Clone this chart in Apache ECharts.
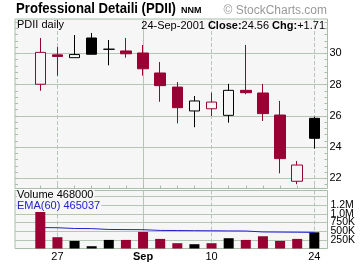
<!DOCTYPE html>
<html><head><meta charset="utf-8">
<script src="https://cdn.jsdelivr.net/npm/echarts@6/dist/echarts.min.js"></script>
<style>html,body{margin:0;padding:0;background:#fff}#c{width:360px;height:266px}</style>
</head><body><div id="c"></div>
<script>
// ---- data ----
const dates = ['2001-08-24','2001-08-27','2001-08-28','2001-08-29','2001-08-30','2001-08-31',
  '2001-09-04','2001-09-05','2001-09-06','2001-09-07','2001-09-10','2001-09-17','2001-09-18',
  '2001-09-19','2001-09-20','2001-09-21','2001-09-24'];
const open  = [28.02, 29.90, 29.72, 30.98, 30.26, 30.15, 30.02, 28.74, 27.84, 26.31, 26.45, 26.03, 27.63, 27.46, 26.05, 21.81, 25.84];
const close = [30.06, 29.80, 29.92, 29.94, 30.26, 29.97, 29.01, 27.93, 26.52, 26.95, 26.88, 27.63, 27.48, 26.14, 23.26, 22.85, 24.56];
const low   = [27.60, 28.57, 29.72, 29.94, 29.23, 29.72, 28.57, 26.90, 25.52, 25.27, 25.99, 25.56, 27.38, 25.67, 22.32, 21.62, 23.90];
const high  = [30.98, 30.40, 31.17, 31.30, 30.85, 30.98, 30.53, 29.44, 28.16, 27.27, 27.48, 28.04, 30.53, 28.04, 26.95, 23.11, 25.95];
const prevClose = 30.40;
const volume = [1055000, 326000, 219000, 66000, 248000, 248000, 478000, 277000, 153000, 124000, 153000, 297000, 248000, 354000, 219000, 277000, 468000];
const ema60  = [605000, 600000, 578000, 574000, 550000, 546000, 543000, 522000, 519000, 515000, 512000, 508000, 505000, 478000, 474000, 470000, 465000];

const priceLabels = [22, 24, 26, 28, 30];
const volLabelValues = [250000, 500000, 750000, 1000000, 1250000];
const volLabelText = ['250K', '500K', '750K', '1.0M', '1.2M'];
const volGridValues = [250000, 500000, 750000, 1000000, 1250000, 1500000];
const dateLabelIdx = [1, 6, 10, 16];
const dateLabelText = ['27', 'Sep', '10', '24'];
const dashedIdx = [1, 10, 16];
const solidIdx = [6];

// ---- styles ----
const RED = '#990033', BLACK = '#000000', BG = '#f6f6f6', BLUE = '#2222cc';
const FRAME = '#a9bea9', GRID = '#b4c6b4', DASH = '#b8c4b8';
const F = '"Liberation Sans", Arial, sans-serif';

const minorTicks = [];
for (let v = 21.6; v <= 32.0001; v += 0.4) minorTicks.push(Math.round(v * 10) / 10);
const allIdx = dates.map((d, i) => i);
const XMIN = -1.477, XMAX = 16.77;
const PMIN = 21.347, PMAX = 32.195;
const VMAX = 1675000;

const isUp = close.map((c, i) => c >= (i ? close[i - 1] : prevClose));
const isHollow = close.map((c, i) => c > open[i]);

const candleData = dates.map((d, i) => {
  const col = isUp[i] ? BLACK : RED;
  const fill = isHollow[i] ? BG : col;
  return { value: [i, open[i], close[i], low[i], high[i]],
    itemStyle: { color: fill, color0: fill, borderColor: col, borderColor0: col } };
});
const volData = dates.map((d, i) => ({ value: [i, volume[i]], itemStyle: { color: isUp[i] ? BLACK : RED } }));
const emaData = dates.map((d, i) => [i, ema60[i]]);

function hiddenX(grid, extra) {
  return Object.assign({ type: 'value', gridIndex: grid, min: XMIN, max: XMAX,
    axisLine: { show: false, onZero: false }, axisTick: { show: false }, axisLabel: { show: false }, splitLine: { show: false } }, extra);
}
function splitX(grid, vals, type) {
  return hiddenX(grid, { axisTick: { show: false, customValues: vals },
    splitLine: { show: true, lineStyle: { color: DASH, width: 1, type: type } } });
}
function volLabelAxis(vals, withSplit) {
  return { type: 'value', gridIndex: 1, position: 'right', min: 0, max: VMAX,
    axisLine: { show: false, onZero: false },
    axisTick: { show: false, customValues: withSplit ? volGridValues : vals },
    splitLine: { show: withSplit, lineStyle: { color: GRID, width: 1 } },
    axisLabel: { show: true, customValues: vals, margin: 3, fontFamily: F, fontSize: 10.5, lineHeight: 8,
      color: '#000', hideOverlap: false, showMinLabel: true, showMaxLabel: true, interval: 0,
      formatter: v => { const k = volLabelValues.indexOf(v); return k >= 0 ? volLabelText[k] : ''; } } };
}

const option = {
  animation: false,
  backgroundColor: '#ffffff',
  grid: [
    { left: 15, top: 19, width: 312.5, height: 169.5, show: true, backgroundColor: BG, borderColor: FRAME, borderWidth: 1, outerBoundsMode: 'none' },
    { left: 15, top: 190.5, width: 312.5, height: 58, show: true, backgroundColor: BG, borderColor: FRAME, borderWidth: 1, outerBoundsMode: 'none' }
  ],
  xAxis: [
    hiddenX(0, { position: 'bottom', axisTick: { show: true, inside: true, length: 3, customValues: allIdx, lineStyle: { color: FRAME } } }),
    splitX(0, dashedIdx, 'dashed'),
    splitX(0, solidIdx, 'solid'),
    hiddenX(1, { position: 'bottom', axisLabel: { show: true, customValues: dateLabelIdx, margin: 3,
      fontFamily: F, fontSize: 11, color: '#000', showMinLabel: true, showMaxLabel: true, hideOverlap: false,
      formatter: v => { const k = dateLabelIdx.indexOf(Math.round(v)); const t = k >= 0 ? dateLabelText[k] : '';
        return t === 'Sep' ? '{b|Sep}' : t; },
      rich: { b: { fontWeight: 'bold', fontFamily: F, fontSize: 11, color: '#000' } } } }),
    splitX(1, dashedIdx, 'dashed'),
    splitX(1, solidIdx, 'solid')
  ],
  yAxis: [
    { type: 'value', gridIndex: 0, position: 'left', min: PMIN, max: PMAX,
      axisLine: { show: false, onZero: false }, axisLabel: { show: false }, splitLine: { show: false },
      axisTick: { show: true, inside: true, length: 3, customValues: minorTicks, lineStyle: { color: FRAME } } },
    { type: 'value', gridIndex: 0, position: 'right', min: PMIN, max: PMAX,
      axisLine: { show: false, onZero: false }, splitLine: { show: false },
      axisTick: { show: true, inside: true, length: 3, customValues: minorTicks, lineStyle: { color: FRAME } },
      axisLabel: { show: true, customValues: priceLabels, margin: 2, fontFamily: F, fontSize: 11, color: '#000',
        showMinLabel: true, showMaxLabel: true } },
    { type: 'value', gridIndex: 0, position: 'right', min: PMIN, max: PMAX,
      axisLine: { show: false, onZero: false }, axisLabel: { show: false },
      axisTick: { show: false, customValues: priceLabels },
      splitLine: { show: true, lineStyle: { color: GRID, width: 1 } } },
    volLabelAxis([250000, 750000, 1250000], true),
    volLabelAxis([500000, 1000000], false)
  ],
  series: [
    { type: 'candlestick', xAxisIndex: 0, yAxisIndex: 0, barWidth: 11, encode: { x: 0, y: [1, 2, 3, 4] },
      itemStyle: { borderWidth: 1 }, data: candleData, z: 5 },
    { type: 'bar', xAxisIndex: 3, yAxisIndex: 3, barWidth: 10, data: volData, z: 5 },
    { type: 'line', xAxisIndex: 3, yAxisIndex: 3, data: emaData, symbol: 'none', z: 6,
      lineStyle: { color: BLUE, width: 1 } }
  ],
  graphic: [
    { type: 'text', x: 16, y: 8.5, scaleX: 0.876, z: 100,
      style: { text: 'Professional Detaili (PDII)', fontFamily: F, fontWeight: 'bold', fontSize: 15, fill: '#000', verticalAlign: 'middle' } },
    { type: 'text', x: 181, y: 10.8, z: 100,
      style: { text: 'NNM', fontFamily: F, fontWeight: 'bold', fontSize: 9, fill: '#000', verticalAlign: 'middle' } },
    { type: 'text', x: 327, y: 10.5, z: 100,
      style: { text: '\u00a9 StockCharts.com', fontFamily: F, fontSize: 12, fill: '#999999', align: 'right', verticalAlign: 'middle' } },
    { type: 'text', x: 17, y: 25.3, z: 100,
      style: { text: 'PDII daily', fontFamily: F, fontSize: 11, fill: '#000', verticalAlign: 'middle' } },
    { type: 'text', x: 325, y: 25.5, z: 100,
      style: { text: '24-Sep-2001 {b|Close:}24.56 {b|Chg:}+1.71', fontFamily: F, fontSize: 11, fill: '#000',
        align: 'right', verticalAlign: 'middle',
        rich: { b: { fontFamily: F, fontSize: 11, fontWeight: 'bold', fill: '#000' } } } },
    { type: 'text', x: 17, y: 195.3, z: 100,
      style: { text: 'Volume 468000', fontFamily: F, fontSize: 11, fill: '#000', verticalAlign: 'middle',
        backgroundColor: BG, padding: [0, 1, 0, 0] } },
    { type: 'text', x: 17, y: 206, z: 100,
      style: { text: 'EMA(60) 465037', fontFamily: F, fontSize: 11, fill: BLUE, verticalAlign: 'middle',
        backgroundColor: BG, padding: [0, 1, 0, 0] } }
  ]
};
const chart = echarts.init(document.getElementById('c'), null, { renderer: 'canvas' });
chart.setOption(option);
</script></body></html>
